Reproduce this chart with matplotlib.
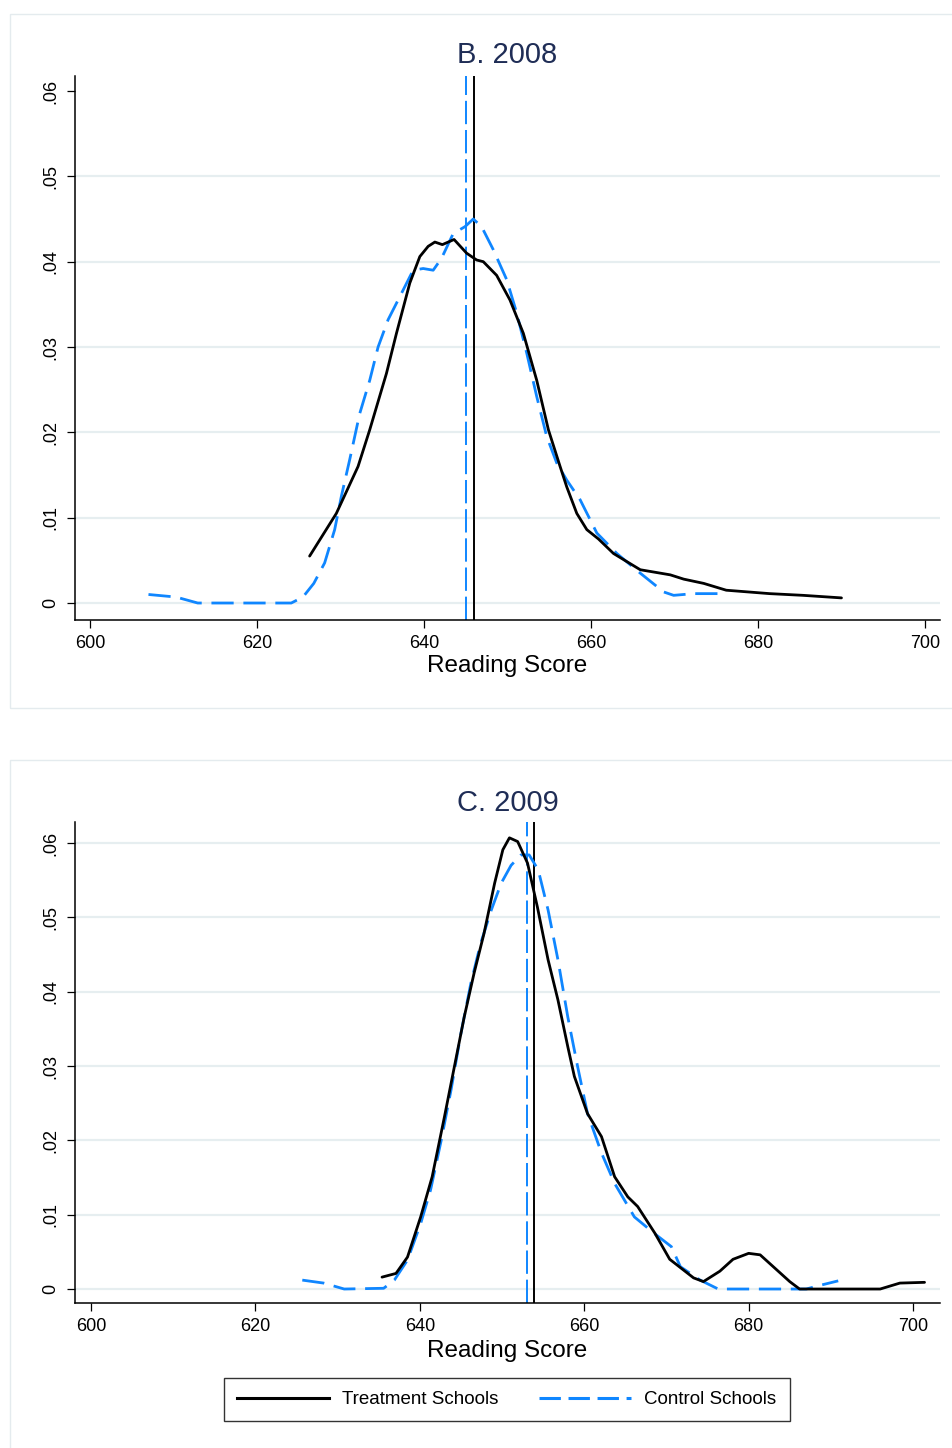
import matplotlib
matplotlib.use('Agg')
import matplotlib.pyplot as plt
from matplotlib.patches import Rectangle
from matplotlib.lines import Line2D

plt.rcParams['font.family'] = ['Liberation Sans', 'DejaVu Sans']

# kernel density of reading scores, 2008
x_treat_08 = [626.3, 629.5, 632.1, 633.5, 635.5, 636.7, 638.3, 639.5, 640.5, 641.3, 642.2, 643.6,
              645.1, 646.3, 647.1, 648.7, 650.3, 651.9, 653.5, 654.9, 656.3, 657.1, 658.3, 659.5,
              660.9, 662.7, 665.9, 669.5, 671.1, 673.5, 676.2, 681.4, 685.4, 690.0]
y_treat_08 = [.0055, .0105, .0160, .0203, .0269, .0316, .0375, .0406, .0418, .0423, .0420, .0426,
              .0410, .0402, .0400, .0384, .0355, .0316, .0261, .0203, .0160, .0136, .0105, .0086,
              .0075, .0058, .0039, .0033, .0028, .0023, .0015, .0011, .0009, .0006]
x_ctrl_08 = [607.0, 610.3, 612.9, 624.1, 625.5, 626.8, 628.1, 629.3, 630.1, 631.1, 632.3, 633.5,
             634.5, 635.7, 637.1, 638.7, 639.9, 641.1, 642.1, 643.5, 644.9, 645.9, 646.9, 648.3,
             649.9, 651.1, 652.3, 653.5, 654.7, 655.9, 657.1, 658.7, 660.7, 663.1, 665.9, 668.7,
             669.9, 672.3, 676.2]
y_ctrl_08 = [.0010, .0007, 0, 0, .0007, .0023, .0047, .0086, .0125, .0168, .0222, .0261,
             .0300, .0332, .0359, .0390, .0392, .0390, .0404, .0433, .0441, .0450, .0441, .0414,
             .0379, .0340, .0293, .0242, .0195, .0164, .0144, .0121, .0082, .0058, .0035, .0013,
             .0009, .0011, .0011]

# 2009
x_treat_09 = [635.4, 637.1, 638.5, 640.1, 641.5, 643.0, 644.2, 645.4, 646.6, 647.8, 649.1, 650.1,
              650.9, 651.9, 653.1, 654.3, 655.6, 656.8, 658.0, 658.8, 660.4, 662.1, 663.7, 665.3,
              666.5, 668.6, 670.4, 673.3, 674.5, 676.5, 678.1, 680.0, 681.4, 683.4, 685.0, 686.2,
              696.0, 698.4, 701.4]
y_treat_09 = [.0016, .0021, .0043, .0097, .0151, .0232, .0299, .0366, .0425, .0478, .0546, .0591,
              .0607, .0602, .0573, .0514, .0443, .0389, .0326, .0286, .0236, .0205, .0151, .0124,
              .0111, .0075, .0040, .0015, .0010, .0024, .0040, .0048, .0046, .0026, .0010, 0,
              0, .0008, .0009]
x_ctrl_09 = [625.7, 628.3, 630.8, 635.6, 636.9, 638.5, 640.1, 641.3, 642.6, 643.8, 645.0, 646.2,
             647.4, 648.7, 649.9, 651.1, 652.3, 653.3, 654.4, 655.6, 656.8, 658.0, 659.2, 660.4,
             662.1, 663.7, 666.1, 668.5, 670.6, 671.7, 674.1, 676.3, 687.0, 688.7, 690.9]
y_ctrl_09 = [.0012, .0008, 0, .0001, .0012, .0039, .0088, .0133, .0200, .0268, .0344, .0411,
             .0465, .0510, .0546, .0570, .0584, .0584, .0564, .0510, .0443, .0366, .0299, .0236,
             .0183, .0142, .0097, .0075, .0057, .0030, .0012, 0, 0, .0005, .0011]

# group means (vertical lines)
mean_treat = [645.95, 653.9]
mean_ctrl = [645.0, 653.0]

titles = ['B. 2008', 'C. 2009']
xticks = [600, 620, 640, 660, 680, 700]
yticks = [0, .01, .02, .03, .04, .05, .06]
ytick_labels = ['0', '.01', '.02', '.03', '.04', '.05', '.06']

W, H = 952, 1448
BLUE = '#0f86ff'
NAVY = '#1f2d56'
GRID = '#e6eef0'

fig = plt.figure(figsize=(W / 100, H / 100), dpi=100)


def px_axes(left, top, right, bottom):
    return fig.add_axes([left / W, 1 - bottom / H, (right - left) / W, (bottom - top) / H])


# light panel frames
for (x0, y0, x1, y1) in [(10, 14, 960, 708), (10, 760, 960, 1460)]:
    fig.patches.append(Rectangle((x0 / W, 1 - y1 / H), (x1 - x0) / W, (y1 - y0) / H,
                                 transform=fig.transFigure, fill=False,
                                 edgecolor='#e4ebee', lw=1.0))

panels = [
    dict(box=(75, 76, 940, 620), xlim=(598.2, 701.8), ylim=(-0.00199, 0.06176),
         title_y=55, xlab_y=666, grid=yticks[:-1],
         treat=(x_treat_08, y_treat_08), ctrl=(x_ctrl_08, y_ctrl_08)),
    dict(box=(75, 822, 940, 1303), xlim=(598.05, 703.28), ylim=(-0.00188, 0.06283),
         title_y=803, xlab_y=1351, grid=yticks,
         treat=(x_treat_09, y_treat_09), ctrl=(x_ctrl_09, y_ctrl_09)),
]

for i, p in enumerate(panels):
    ax = px_axes(*p['box'])
    ax.set_xlim(*p['xlim'])
    ax.set_ylim(*p['ylim'])
    for g in p['grid']:
        ax.axhline(g, color=GRID, lw=1.6, zorder=0)

    ax.plot(*p['ctrl'], color=BLUE, lw=2.0, dashes=(8, 3.5), zorder=3,
            solid_joinstyle='round', dash_joinstyle='round')
    ax.plot(*p['treat'], color='black', lw=2.0, zorder=4,
            solid_joinstyle='round', solid_capstyle='round')
    ax.axvline(mean_ctrl[i], color=BLUE, lw=1.4, dashes=(12, 3), zorder=2)
    ax.axvline(mean_treat[i], color='black', lw=1.4, zorder=2)

    ax.set_xticks(xticks)
    ax.set_yticks(yticks)
    ax.set_yticklabels(ytick_labels, rotation=90, va='center')
    ax.tick_params(axis='both', direction='out', length=6, width=0.9, labelsize=13, pad=5)
    for s in ['top', 'right']:
        ax.spines[s].set_visible(False)
    for s in ['left', 'bottom']:
        ax.spines[s].set_linewidth(1.1)

    fig.text(507.5 / W, 1 - p['title_y'] / H, titles[i], ha='center', va='center',
             fontsize=21, color=NAVY)
    fig.text(507.5 / W, 1 - p['xlab_y'] / H, 'Reading Score', ha='center', va='center',
             fontsize=17.5)

handles = [Line2D([], [], color='black', lw=2.2),
           Line2D([], [], color=BLUE, lw=2.2, dashes=(7, 2.5))]
leg = fig.legend(handles, ['Treatment Schools', 'Control Schools'], ncol=2,
                 loc='center', bbox_to_anchor=(506.5 / W, 1 - 1399.5 / H),
                 fontsize=13.5, frameon=True, fancybox=False, edgecolor='black',
                 handlelength=4.9, handletextpad=0.7, columnspacing=2.2,
                 borderpad=0.7)
leg.get_frame().set_linewidth(1.0)

fig.savefig('out.png', dpi=100)
